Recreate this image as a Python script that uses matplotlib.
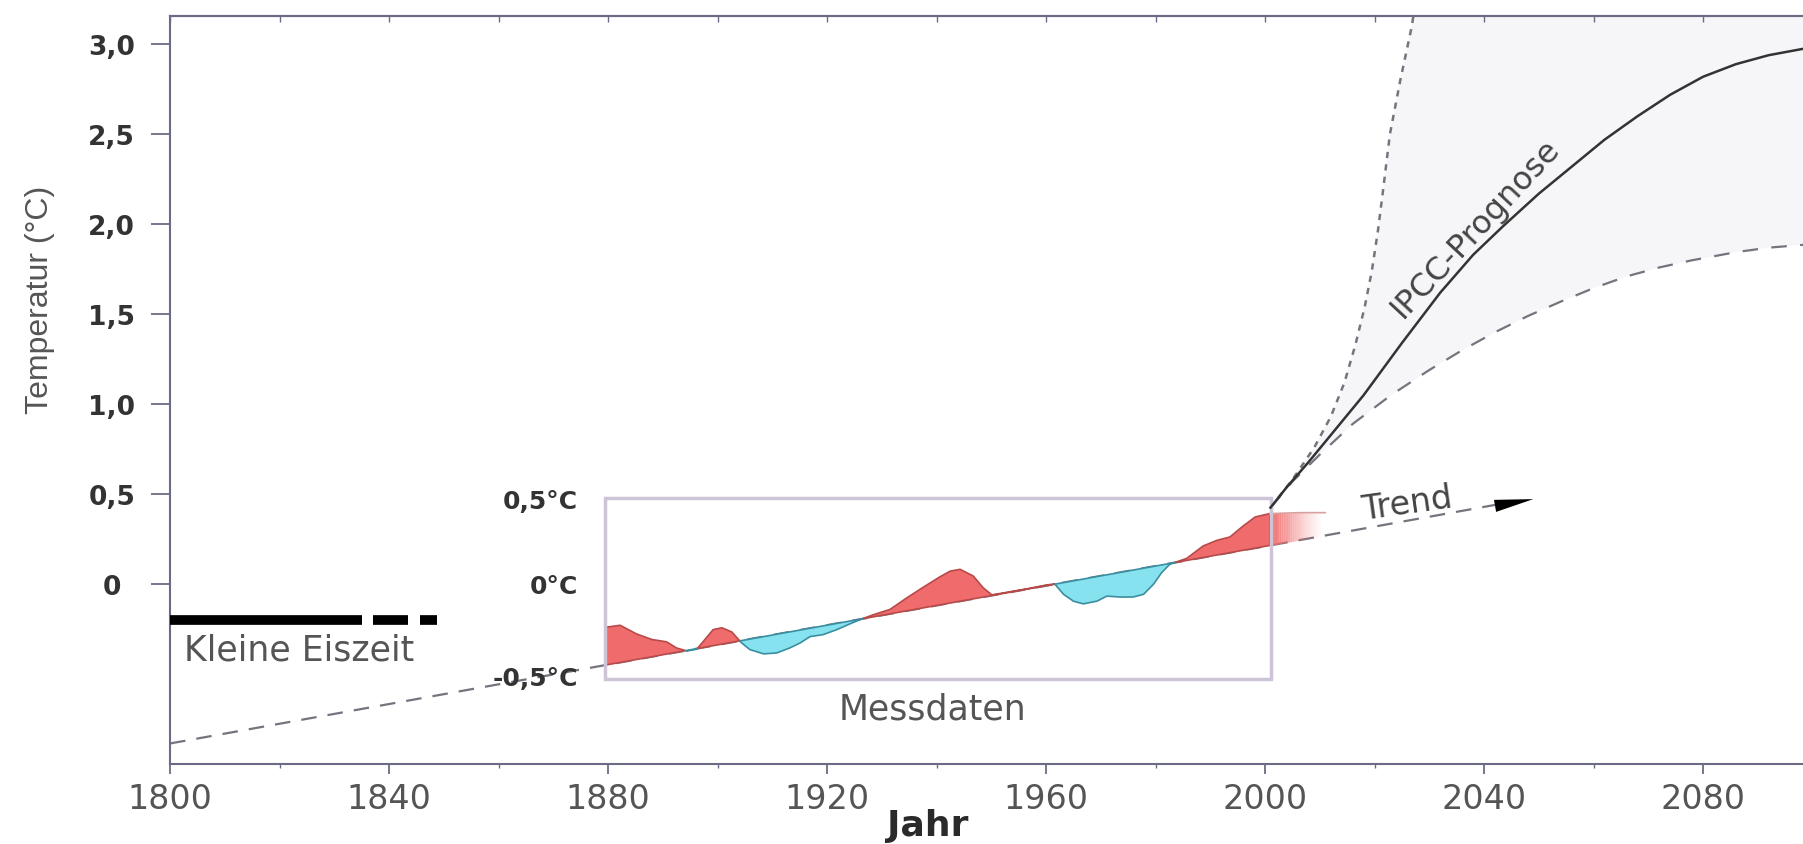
import matplotlib.pyplot as plt
import numpy as np
from matplotlib.patches import Rectangle

# Messdaten 1880-2011 (Temperatur auf der Hauptskala, °C)
mess_jahre = [1879.6, 1882.2, 1885.2, 1888.0, 1890.7, 1892.5, 1894.4, 1896.2, 1897.7, 1899.2,
              1900.8, 1902.6, 1904.4, 1905.9, 1908.4, 1910.8, 1913.2, 1915.1, 1916.9, 1919.3,
              1921.8, 1924.2, 1926.0, 1928.5, 1931.5, 1934.6, 1937.6, 1940.6, 1942.5, 1944.3,
              1946.7, 1948.5, 1950.1, 1955.9, 1960.1, 1961.6, 1963.2, 1965.0, 1966.8, 1969.3,
              1971.1, 1973.5, 1975.9, 1977.8, 1979.6, 1981.1, 1982.6, 1985.7, 1988.7, 1991.2,
              1993.6, 1996.0, 1998.2, 2000.9, 2006.4, 2011.0]
mess_temp = [-0.24, -0.229, -0.277, -0.308, -0.321, -0.355, -0.372, -0.362, -0.308, -0.253,
             -0.243, -0.266, -0.327, -0.364, -0.388, -0.383, -0.355, -0.327, -0.292, -0.281,
             -0.253, -0.221, -0.198, -0.170, -0.141, -0.076, -0.017, 0.04, 0.072, 0.082,
             0.045, -0.02, -0.06, -0.03, -0.005, 0.0, -0.057, -0.095, -0.11, -0.095,
             -0.067, -0.072, -0.072, -0.057, -0.002, 0.063, 0.11, 0.143, 0.212, 0.243,
             0.262, 0.323, 0.373, 0.392, 0.397, 0.397]

# linearer Trend
trend_jahre = [1800, 2042]
trend_temp = [-0.886, 0.44]
pfeil_jahre = [2043, 2049.5]

# IPCC-Prognose
ipcc_jahre = [2001, 2004, 2008, 2013, 2018, 2025, 2032, 2038, 2043.5, 2050, 2056, 2062,
              2068, 2074, 2080, 2086, 2092, 2100]
ipcc_temp = [0.425, 0.54, 0.68, 0.865, 1.05, 1.34, 1.62, 1.83, 1.99, 2.17, 2.32, 2.47,
             2.60, 2.72, 2.82, 2.89, 2.94, 2.985]
oben_jahre = [2001, 2005, 2009, 2012, 2014.5, 2016.5, 2018.2, 2019.5, 2020.6, 2021.6,
              2022.8, 2024.7, 2026.8, 2027.3]
oben_temp = [0.425, 0.58, 0.76, 0.93, 1.12, 1.33, 1.54, 1.74, 1.96, 2.20, 2.50, 2.80, 3.10, 3.2]
unten_jahre = [2001, 2005, 2010, 2016, 2023, 2030, 2036, 2042, 2048, 2054, 2060, 2066,
               2072, 2078, 2086, 2092, 2100]
unten_temp = [0.425, 0.57, 0.72, 0.89, 1.05, 1.19, 1.30, 1.40, 1.49, 1.57, 1.645, 1.71,
              1.76, 1.80, 1.845, 1.87, 1.89]

# Kleine Eiszeit (Balken bei -0,2 °C)
eiszeit_start = [1800, 1837, 1845.7]
eiszeit_ende = [1835, 1843.5, 1848.8]
eiszeit_temp = -0.2

# Rahmen der Messdaten
rahmen_jahre = [1879.5, 2001]
rahmen_temp = [-0.53, 0.48]
rahmen_labels = ['0,5°C', '0°C', '-0,5°C']
rahmen_label_temp = [0.46, -0.01, -0.52]

y_ticks = [0, 0.5, 1.0, 1.5, 2.0, 2.5, 3.0]
y_labels = ['0', '0,5', '1,0', '1,5', '2,0', '2,5', '3,0']
x_ticks = list(range(1800, 2100, 40))

rot = '#f06c6c'
blau = '#86e2ee'
grau = '#74747e'
achse = '#6b6b85'

fig = plt.figure(figsize=(18.03, 8.45), dpi=100)
ax = fig.add_axes([0.0943, 0.0947, 0.911, 0.8846])
ax.set_xlim(1800, 2100)
ax.set_ylim(-1.0, 3.155)

# Prognosebereich leicht grau
ax.fill(oben_jahre + [2100] + unten_jahre[::-1],
        oben_temp + [3.2] + unten_temp[::-1], color='#f6f6f8', lw=0, zorder=0)

# Trend
ax.plot(trend_jahre, trend_temp, color=grau, lw=1.6, dashes=(7, 5), zorder=1)
ax.annotate('', xy=(pfeil_jahre[1], np.interp(pfeil_jahre[1], trend_jahre, trend_temp) + 0.035),
            xytext=(pfeil_jahre[0], np.interp(pfeil_jahre[0], trend_jahre, trend_temp)),
            arrowprops=dict(arrowstyle='-|>,head_length=1.4,head_width=0.22',
                            color='black', lw=0, mutation_scale=20), zorder=3)

# Messdaten: Abweichung vom Trend
j = np.array(mess_jahre)
t = np.array(mess_temp)
tr = np.interp(j, trend_jahre, trend_temp)
m = j <= 2001
ax.fill_between(j[m], t[m], tr[m], where=t[m] >= tr[m], interpolate=True,
                facecolor=rot, edgecolor='#b84a4a', lw=1.2, zorder=2)
ax.fill_between(j[m], t[m], tr[m], where=t[m] <= tr[m], interpolate=True,
                facecolor=blau, edgecolor='#3a8ea0', lw=1.2, zorder=2)
# auslaufender Bereich nach 2001
stufen = np.arange(2000.9, 2010.5, 0.4)
for i in range(len(stufen) - 1):
    xs = stufen[i:i + 2]
    a = max(0.0, 1 - (stufen[i] - 2000.9) / 9.6)
    ax.fill_between(xs, np.interp(xs, mess_jahre, mess_temp), np.interp(xs, trend_jahre, trend_temp),
                    color=rot, alpha=a ** 1.3, lw=0, zorder=2)
m2 = j >= 2000.9
ax.plot(j[m2], t[m2], color='#d9a0a0', lw=1.2, zorder=2)

# Rahmen
ax.add_patch(Rectangle((rahmen_jahre[0], rahmen_temp[0]), rahmen_jahre[1] - rahmen_jahre[0],
                       rahmen_temp[1] - rahmen_temp[0], fill=False, edgecolor='#cdc4d8',
                       lw=2.5, zorder=3))
for lab, yy in zip(rahmen_labels, rahmen_label_temp):
    ax.text(1874.5, yy, lab, ha='right', va='center', fontsize=18, fontweight='bold',
            color='#333333')
ax.text(1939.2, -0.747, 'Messdaten', ha='center', va='baseline', fontsize=25, color='#555555')

# IPCC
ax.plot(oben_jahre, oben_temp, color=grau, lw=1.8, dashes=(2.5, 2.5), zorder=2)
ax.plot(unten_jahre, unten_temp, color=grau, lw=1.6, dashes=(7, 6), zorder=2)
ax.plot(ipcc_jahre, ipcc_temp, color='#333333', lw=1.8, zorder=3)
ax.text(2038.5, 1.98, 'IPCC-Prognose', rotation=47, ha='center', va='center',
        rotation_mode='anchor', fontsize=23, color='#444444')
ax.text(2025.9, 0.45, 'Trend', rotation=8, ha='center', va='center',
        rotation_mode='anchor', fontsize=24, color='#444444')

# Kleine Eiszeit
for s, e in zip(eiszeit_start, eiszeit_ende):
    ax.plot([s, e], [eiszeit_temp, eiszeit_temp], color='black', lw=7,
            solid_capstyle='butt', zorder=3)
ax.text(1802.6, -0.418, 'Kleine Eiszeit', ha='left', va='baseline', fontsize=25,
        color='#555555')

# Achsen
for side in ['left', 'bottom', 'top']:
    ax.spines[side].set_color(achse)
    ax.spines[side].set_linewidth(1.5)
ax.spines['right'].set_visible(False)

ax.set_yticks(y_ticks)
ax.set_yticklabels(y_labels, fontweight='bold', ha='center')
ax.tick_params(axis='y', length=14, width=1.3, pad=28, labelsize=19, color=achse,
               labelcolor='#333333')
ax.set_xticks(x_ticks)
ax.set_xticks(range(1800, 2101, 20), minor=True)
ax.tick_params(axis='x', which='major', length=7, width=1.3, pad=6, labelsize=24,
               color=achse, labelcolor='#555555')
ax.tick_params(axis='x', which='minor', length=3, width=1.0, color=achse)
ax.tick_params(axis='y', which='minor', left=False)

sec = ax.secondary_xaxis('top')
sec.set_xticks(range(1800, 2101, 20))
sec.set_xticklabels([])
sec.tick_params(direction='in', length=4, width=1.0, color=achse)
sec.spines['top'].set_color(achse)
sec.spines['top'].set_linewidth(1.5)

fig.text(40 / 1803, 1 - 300 / 845, 'Temperatur (°C)', rotation=90, ha='center', va='center',
         fontsize=23, family=['Liberation Sans', 'DejaVu Sans'], color='#555555')
fig.text(928 / 1803, 1 - 836 / 845, 'Jahr', ha='center', va='baseline', fontsize=26,
         fontweight='bold', color='#2a2a2a')

fig.savefig('out.png', dpi=100, facecolor='white')
